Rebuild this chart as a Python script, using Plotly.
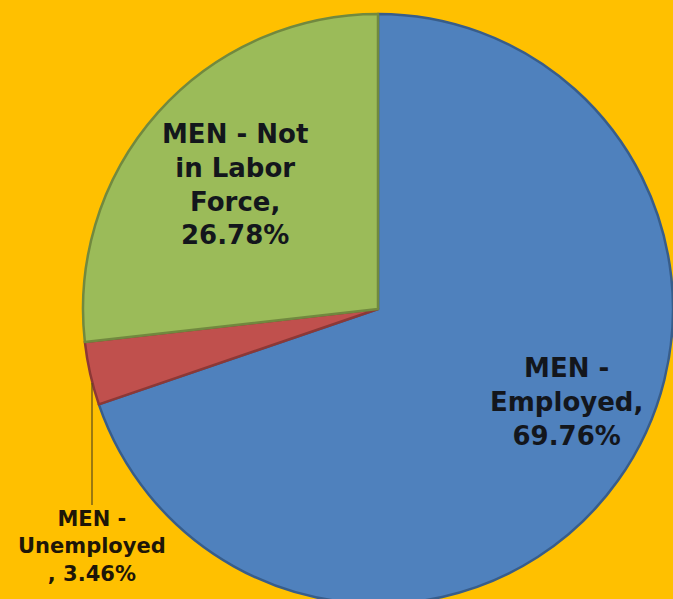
import plotly.graph_objects as go

# Labour-force status of men (share of population, %)
categories = ["MEN - Employed", "MEN - Unemployed", "MEN - Not in Labor Force"]
shares = [69.76, 3.46, 26.78]

# Display text for each slice, wrapped by hand; {} receives the percentage
label_templates = [
    "MEN -<br>Employed,<br>{}",
    "MEN -<br>Unemployed<br>, {}",
    "MEN - Not<br>in Labor<br>Force,<br>{}",
]

slice_colors = ["#4F81BD", "#C0504D", "#9BBB59"]
edge_colors = ["#385D8A", "#8C3836", "#71893F"]

W, H = 673, 620            # page is taller than the window so the pie runs off the bottom
cx, cy, r = 378, 309, 295  # pie centre and radius in pixels


def px(x, y):
    """Pixel position -> paper coordinates."""
    return x / W, 1 - y / H


fig = go.Figure(
    go.Pie(
        labels=categories,
        values=shares,
        sort=False,
        direction="clockwise",
        rotation=0,
        textinfo="none",
        hoverinfo="label+percent",
        marker=dict(colors=slice_colors, line=dict(color=edge_colors, width=2.5)),
        domain=dict(x=[(cx - r) / W, (cx + r) / W], y=[1 - (cy + r) / H, 1 - (cy - r) / H]),
        showlegend=False,
    )
)

texts = [t.format(f"{v:.2f}%") for t, v in zip(label_templates, shares)]
font_big = dict(family="DejaVu Sans", size=26, color="#13161c")
font_small = dict(family="DejaVu Sans", size=21, color="#1e1608")

annotations = []
# Employed (inside the blue slice)
x, y = px(566, 402)
annotations.append(dict(x=x, y=y, xref="paper", yref="paper", text=f"<b>{texts[0]}</b>",
                        showarrow=False, font=font_big, align="center",
                        xanchor="center", yanchor="middle"))
# Not in labour force (inside the green slice)
x, y = px(235, 184)
annotations.append(dict(x=x, y=y, xref="paper", yref="paper", text=f"<b>{texts[2]}</b>",
                        showarrow=False, font=font_big, align="center",
                        xanchor="center", yanchor="middle"))
# Unemployed (outside, with a leader line down from the red slice)
x, y = px(92, 383)
annotations.append(dict(x=x, y=y, xref="paper", yref="paper", text=f"<b>{texts[1]}</b>",
                        showarrow=True, arrowhead=0, arrowwidth=1.2, arrowcolor="#5a4a1c",
                        ax=0, ay=163, standoff=0, font=font_small, align="center"))

fig.update_layout(
    width=W,
    height=H,
    margin=dict(l=0, r=0, t=0, b=0),
    paper_bgcolor="#FFC000",
    plot_bgcolor="#FFC000",
    annotations=annotations,
)

fig.write_html("out.html", post_script="document.body.style.overflow='hidden';document.documentElement.style.overflow='hidden';")
